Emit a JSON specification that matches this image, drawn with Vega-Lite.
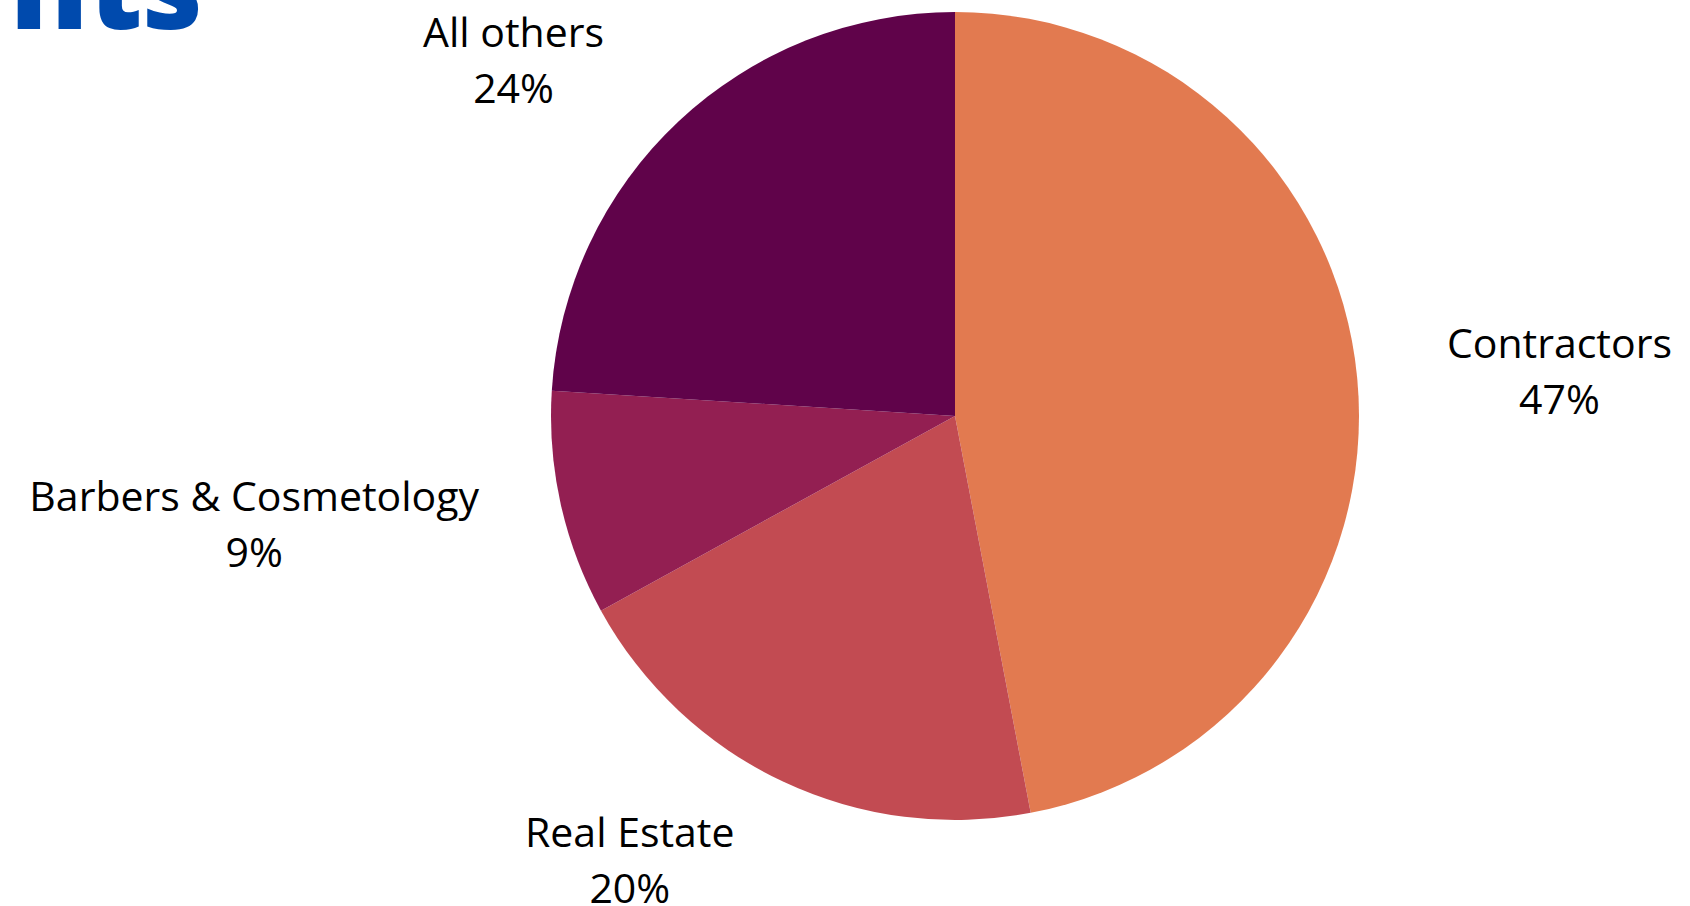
{
  "$schema": "https://vega.github.io/schema/vega-lite/v6.json",
  "width": 808,
  "height": 808,
  "autosize": "none",
  "padding": {"left": 551, "top": 12, "right": 331, "bottom": 86},
  "background": "white",
  "title": {
    "text": "nts",
    "anchor": "start",
    "frame": "group",
    "font": "Open Sans",
    "fontSize": 117,
    "fontWeight": 800,
    "color": "#004AAD",
    "baseline": "alphabetic",
    "offset": 0,
    "dx": -541,
    "dy": 134
  },
  "data": {
    "values": [
      {"category": "Contractors", "value": 0.47, "rank": 1},
      {"category": "Real Estate", "value": 0.20, "rank": 2},
      {"category": "Barbers & Cosmetology", "value": 0.09, "rank": 3},
      {"category": "All others", "value": 0.24, "rank": 4}
    ]
  },
  "encoding": {
    "theta": {"field": "value", "type": "quantitative", "stack": true},
    "order": {"field": "rank", "type": "quantitative"}
  },
  "layer": [
    {
      "mark": {"type": "arc", "radius": 404},
      "encoding": {
        "color": {
          "field": "category",
          "type": "nominal",
          "scale": {
            "domain": ["Contractors", "Real Estate", "Barbers & Cosmetology", "All others"],
            "range": ["#E27A50", "#C24B52", "#931F52", "#60034A"]
          },
          "legend": null
        }
      }
    },
    {
      "mark": {
        "type": "text",
        "radius": 490,
        "font": "Open Sans",
        "fontSize": 41,
        "color": "#000000",
        "align": "center",
        "baseline": "middle",
        "dy": -24,
        "dx": {"expr": "((datum.value_start + datum.value_end) / 2 < 0.5 ? 1 : -1) * length(datum.category) * 10.6"}
      },
      "encoding": {"text": {"field": "category", "type": "nominal"}}
    },
    {
      "mark": {
        "type": "text",
        "radius": 490,
        "font": "Open Sans",
        "fontSize": 41,
        "color": "#000000",
        "align": "center",
        "baseline": "middle",
        "dy": 32,
        "dx": {"expr": "((datum.value_start + datum.value_end) / 2 < 0.5 ? 1 : -1) * length(datum.category) * 10.6"}
      },
      "encoding": {"text": {"field": "value", "type": "quantitative", "format": ".0%"}}
    }
  ],
  "config": {"view": {"stroke": null}}
}
